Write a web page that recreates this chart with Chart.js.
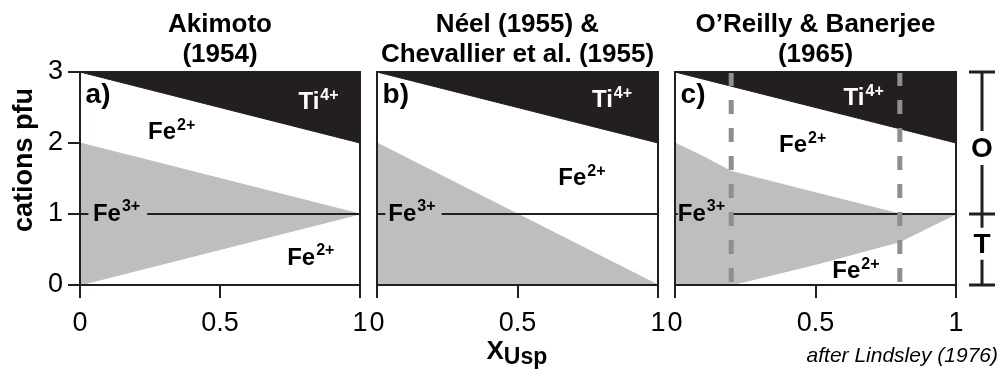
<!DOCTYPE html>
<html><head><meta charset="utf-8">
<script src="https://cdn.jsdelivr.net/npm/chart.js@4/dist/chart.umd.min.js"></script>
<style>
html,body{margin:0;padding:0;background:#fff;width:1000px;height:369px;overflow:hidden;}
canvas{position:absolute;left:0;top:0;}
</style></head><body>
<canvas id="ca" width="1000" height="369"></canvas>
<canvas id="cb" width="1000" height="369"></canvas>
<canvas id="cc" width="1000" height="369"></canvas>
<script>
// ---------- data ----------
const xTickValues = [0, 0.5, 1];
const xTickLabels = ['0', '0.5', '1'];
const yTickValues = [0, 1, 2, 3];
const yTickLabels = ['0', '1', '2', '3'];
const panelTitles = [['Akimoto', '(1954)'], ['Néel (1955) &', 'Chevallier et al. (1955)'], ['O’Reilly & Banerjee', '(1965)']];
const panelLetters = ['a)', 'b)', 'c)'];
const yAxisTitle = 'cations pfu';
const xAxisMain = 'X';
const xAxisSub = 'Usp';
const sourceNote = 'after Lindsley (1976)';

// Ti4+ boundary (top of octahedral Fe2+), same in all panels
const tiX = [0, 1];
const tiY = [3, 2];
// panel a: Fe3+ field
const aUpperX = [0, 1];
const aUpperY = [2, 1];
const aLowerX = [0, 1];
const aLowerY = [0, 1];
// panel b: Fe3+ field
const bUpperX = [0, 1];
const bUpperY = [2, 0];
// panel c: Fe3+ field
const cUpperX = [0, 0.1, 0.2, 0.5, 0.8, 1];
const cUpperY = [2, 1.81, 1.6, 1.3, 1, 1];
const cLowerX = [0, 0.2, 0.5, 0.8, 1];
const cLowerY = [0, 0, 0.29, 0.61, 1];
// panel c: dashed limits
const cDashX = [0.2, 0.8];
// octahedral / tetrahedral divide at y = 1 (x, with null = break behind label)
const divideY = 1;
const aDivideX = [0, 0.03, null, 0.24, 1];
const bDivideX = [0, 0.03, null, 0.23, 1];
const cDivideX = [0, 0.01, null, 0.2, 1];

// ---------- styling ----------
const FONT = "'Liberation Sans', Arial, sans-serif";
const BLACK = '#231f20';
const GREY = '#bcbec0';
const DASH = '#8e8e8e';

const pts = (xs, ys) => xs.map((x, i) => ({x: x, y: ys[i]}));
const divide = xs => xs.map((x, i) => x === null ? {x: (xs[i-1] + xs[i+1]) / 2, y: null} : {x: x, y: divideY});

function chem(ctx, x, y, main, sup, color) {
  ctx.save();
  ctx.fillStyle = color;
  ctx.textAlign = 'left';
  ctx.textBaseline = 'middle';
  ctx.font = 'bold 24px ' + FONT;
  ctx.fillText(main, x, y);
  const w = ctx.measureText(main).width;
  if (sup) {
    ctx.font = 'bold 16px ' + FONT;
    ctx.fillText(sup, x + w + 1, y - 7);
  }
  ctx.restore();
}

function panelPlugin(idx, labels, extra) {
  return {
    id: 'panel' + idx,
    afterDatasetsDraw(chart) {
      const ctx = chart.ctx, a = chart.chartArea;
      const sx = chart.scales.x, sy = chart.scales.y;
      ctx.save();
      // frame
      ctx.strokeStyle = BLACK;
      ctx.lineWidth = 2;
      ctx.strokeRect(a.left, a.top, a.right - a.left, a.bottom - a.top);
      // title
      ctx.fillStyle = '#000';
      ctx.textAlign = 'center';
      ctx.textBaseline = 'alphabetic';
      ctx.font = 'bold 26px ' + FONT;
      const cx = (a.left + a.right) / 2;
      ctx.fillText(panelTitles[idx][0], cx, 32);
      ctx.fillText(panelTitles[idx][1], cx, 62);
      // letter
      ctx.textAlign = 'left';
      ctx.textBaseline = 'middle';
      ctx.font = 'bold 28px ' + FONT;
      ctx.fillText(panelLetters[idx], sx.getPixelForValue(0.02), sy.getPixelForValue(2.67));
      ctx.restore();
      labels.forEach(l => chem(ctx, sx.getPixelForValue(l[0]), sy.getPixelForValue(l[1]), l[2], l[3], l[4]));
      if (extra) extra(chart);
    }
  };
}

function makeChart(id, idx, datasets, padLeft, padRight, showY, labels, extra) {
  return new Chart(document.getElementById(id), {
    type: 'scatter',
    data: {datasets: datasets},
    options: {
      responsive: false,
      animation: false,
      events: [],
      layout: {padding: {left: padLeft, right: padRight, top: 72, bottom: 0}},
      plugins: {legend: {display: false}, tooltip: {enabled: false}, title: {display: false}},
      elements: {point: {radius: 0}, line: {tension: 0}},
      scales: {
        x: {
          type: 'linear', min: 0, max: 1,
          afterBuildTicks: s => { s.ticks = xTickValues.map(v => ({value: v})); },
          afterFit: s => { s.height = 84; },
          ticks: {callback: (v, i) => xTickLabels[i], font: {family: FONT, size: 27}, color: '#000', padding: 9, maxRotation: 0, autoSkip: false},
          grid: {drawOnChartArea: false, drawTicks: true, tickLength: 13, lineWidth: 2, color: BLACK},
          border: {display: true, color: BLACK, width: 2}
        },
        y: {
          type: 'linear', min: 0, max: 3, display: showY,
          afterBuildTicks: s => { s.ticks = yTickValues.map(v => ({value: v})); },
          afterFit: s => { s.width = showY ? 80 : 0; },
          ticks: {callback: (v, i) => yTickLabels[i], font: {family: FONT, size: 27}, color: '#000', padding: 5},
          grid: {drawOnChartArea: false, drawTicks: true, tickLength: 12, lineWidth: 2, color: BLACK},
          border: {display: true, color: BLACK, width: 2}
        }
      }
    },
    plugins: [panelPlugin(idx, labels, extra)]
  });
}

const lineDs = (data, color, width, dash) => ({data: data, showLine: true, borderColor: color, borderWidth: width, borderDash: dash || [], borderCapStyle: 'butt', fill: false, spanGaps: false, pointRadius: 0});

// ---------- panel a ----------
makeChart('ca', 0, [
  lineDs(divide(aDivideX), BLACK, 2),
  {data: pts(tiX, tiY), showLine: true, borderColor: BLACK, borderWidth: 1, backgroundColor: BLACK, fill: {value: 3}, pointRadius: 0},
  {data: pts(aUpperX, aUpperY), showLine: true, borderColor: GREY, borderWidth: 1, backgroundColor: GREY, fill: '+1', pointRadius: 0},
  {data: pts(aLowerX, aLowerY), showLine: true, borderColor: GREY, borderWidth: 1, fill: false, pointRadius: 0}
], 0, 640, true, [
  [0.78, 2.57, 'Ti', '4+', '#fff'],
  [0.243, 2.15, 'Fe', '2+', '#000'],
  [0.046, 1.0, 'Fe', '3+', '#000'],
  [0.74, 0.38, 'Fe', '2+', '#000']
], chart => {
  const ctx = chart.ctx;
  ctx.save();
  ctx.translate(25, 160);
  ctx.rotate(-Math.PI / 2);
  ctx.fillStyle = '#000';
  ctx.textAlign = 'center';
  ctx.textBaseline = 'middle';
  ctx.font = 'bold 27px ' + FONT;
  ctx.fillText(yAxisTitle, 0, 0);
  ctx.restore();
});

// ---------- panel b ----------
makeChart('cb', 1, [
  lineDs(divide(bDivideX), BLACK, 2),
  {data: pts(tiX, tiY), showLine: true, borderColor: BLACK, borderWidth: 1, backgroundColor: BLACK, fill: {value: 3}, pointRadius: 0},
  {data: pts(bUpperX, bUpperY), showLine: true, borderColor: GREY, borderWidth: 1, backgroundColor: GREY, fill: {value: 0}, pointRadius: 0}
], 377, 342, false, [
  [0.765, 2.6, 'Ti', '4+', '#fff'],
  [0.645, 1.5, 'Fe', '2+', '#000'],
  [0.04, 1.0, 'Fe', '3+', '#000']
], chart => {
  const ctx = chart.ctx, a = chart.chartArea;
  const cx = (a.left + a.right) / 2;
  ctx.save();
  ctx.fillStyle = '#000';
  ctx.textAlign = 'left';
  ctx.textBaseline = 'alphabetic';
  ctx.font = 'bold 26px ' + FONT;
  const x0 = cx - 31;
  ctx.fillText(xAxisMain, x0, 359);
  const w = ctx.measureText(xAxisMain).width;
  ctx.font = 'bold 23px ' + FONT;
  ctx.fillText(xAxisSub, x0 + w, 364);
  ctx.restore();
});

// ---------- panel c ----------
makeChart('cc', 2, [
  lineDs([{x: cDashX[0], y: 3}, {x: cDashX[0], y: 0}], DASH, 5, [14, 14]),
  lineDs([{x: cDashX[1], y: 3}, {x: cDashX[1], y: 0}], DASH, 5, [14, 14]),
  lineDs(divide(cDivideX), BLACK, 2),
  {data: pts(tiX, tiY), showLine: true, borderColor: BLACK, borderWidth: 1, backgroundColor: BLACK, fill: {value: 3}, pointRadius: 0},
  {data: pts(cUpperX, cUpperY), showLine: true, borderColor: GREY, borderWidth: 1, backgroundColor: GREY, fill: '+1', pointRadius: 0},
  {data: pts(cLowerX, cLowerY), showLine: true, borderColor: GREY, borderWidth: 1, fill: false, pointRadius: 0}
], 675, 44, false, [
  [0.6, 2.63, 'Ti', '4+', '#fff'],
  [0.37, 1.97, 'Fe', '2+', '#000'],
  [0.01, 1.0, 'Fe', '3+', '#000'],
  [0.56, 0.19, 'Fe', '2+', '#000']
], chart => {
  const ctx = chart.ctx, a = chart.chartArea, sy = chart.scales.y;
  const bx = a.right + 26;
  const yTop = sy.getPixelForValue(3), yMid = sy.getPixelForValue(1), yBot = sy.getPixelForValue(0);
  const yO = sy.getPixelForValue(1.93), yT = sy.getPixelForValue(0.58);
  ctx.save();
  ctx.strokeStyle = BLACK;
  ctx.lineWidth = 3;
  ctx.beginPath();
  ctx.moveTo(bx - 13, yTop); ctx.lineTo(bx + 13, yTop);
  ctx.moveTo(bx - 13, yMid); ctx.lineTo(bx + 13, yMid);
  ctx.moveTo(bx - 13, yBot); ctx.lineTo(bx + 13, yBot);
  ctx.moveTo(bx, yTop); ctx.lineTo(bx, yO - 17);
  ctx.moveTo(bx, yO + 17); ctx.lineTo(bx, yT - 16);
  ctx.moveTo(bx, yT + 16); ctx.lineTo(bx, yBot);
  ctx.stroke();
  ctx.fillStyle = '#000';
  ctx.textAlign = 'center';
  ctx.textBaseline = 'middle';
  ctx.font = 'bold 28px ' + FONT;
  ctx.fillText('O', bx, yO + 1);
  ctx.fillText('T', bx, yT + 1);
  ctx.font = 'italic 21px ' + FONT;
  ctx.textAlign = 'right';
  ctx.textBaseline = 'alphabetic';
  ctx.fillText(sourceNote, 998, 362);
  ctx.restore();
});
</script>
</body></html>
